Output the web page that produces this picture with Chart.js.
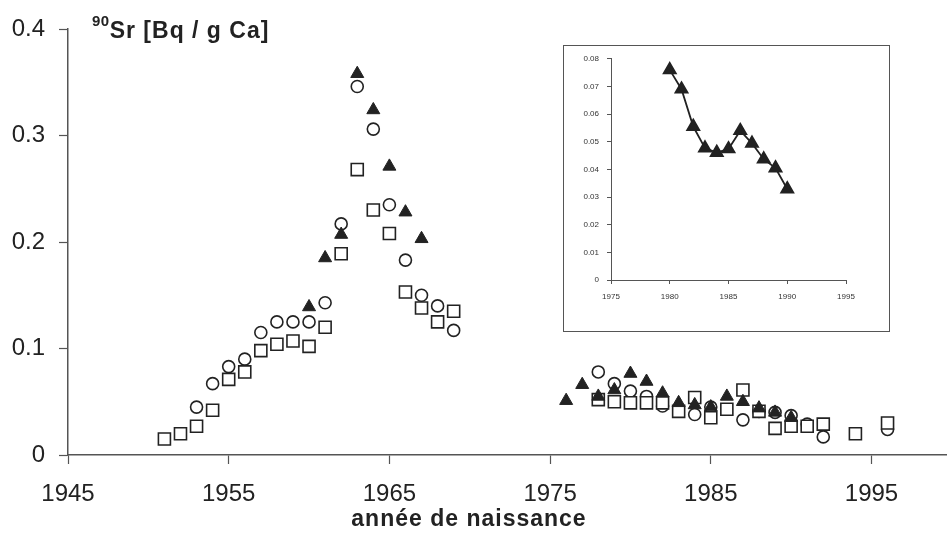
<!DOCTYPE html>
<html>
<head>
<meta charset="utf-8">
<script src="https://cdn.jsdelivr.net/npm/chart.js@4/dist/chart.umd.min.js"></script>
<style>
  html, body { margin: 0; padding: 0; background: #fff; }
  #wrap { position: relative; width: 947px; height: 541px; font-family: "Liberation Sans", Arial, sans-serif; color: #222; }
  #main { position: absolute; left: 0; top: 0; width: 947px; height: 541px; }
  #insetFrame { position: absolute; left: 563px; top: 45px; width: 327px; height: 287px; box-sizing: border-box; border: 1.5px solid #555; background: #fff; }
  #inset { position: absolute; left: 0; top: 0; width: 324px; height: 284px; }
  #ytitle { position: absolute; left: 92px; top: 19px; font-weight: bold; font-size: 23px; line-height: 23px; letter-spacing: 1px; white-space: nowrap; }
  #ytitle span { font-size: 15px; position: relative; top: -12px; letter-spacing: 0.5px; }
  #xtitle { position: absolute; left: 269px; top: 504px; width: 400px; text-align: center; font-weight: bold; font-size: 23px; line-height: 28px; letter-spacing: 1px; }
</style>
</head>
<body>
<div id="wrap">
  <div id="main"><canvas id="mainChart"></canvas></div>
  <div id="ytitle"><span>90</span>Sr [Bq / g Ca]</div>
  <div id="xtitle">année de naissance</div>
  <div id="insetFrame"><div id="inset"><canvas id="insetChart"></canvas></div></div>
</div>
<script>
// quadrats (ouverts)
const sqYears  = [1951, 1952, 1953, 1954, 1955, 1956, 1957, 1958, 1959, 1960, 1961, 1962, 1963, 1964, 1965, 1966, 1967, 1968, 1969,
                  1978, 1979, 1980, 1981, 1982, 1983, 1984, 1985, 1986, 1987, 1988, 1989, 1990, 1991, 1992, 1994, 1996];
const sqValues = [0.015, 0.020, 0.027, 0.042, 0.071, 0.078, 0.098, 0.104, 0.107, 0.102, 0.120, 0.189, 0.268, 0.230, 0.208, 0.153, 0.138, 0.125, 0.135,
                  0.052, 0.050, 0.049, 0.049, 0.049, 0.041, 0.054, 0.035, 0.043, 0.061, 0.041, 0.025, 0.027, 0.027, 0.029, 0.020, 0.030];

// cercles (ouverts)
const circYears  = [1953, 1954, 1955, 1956, 1957, 1958, 1959, 1960, 1961, 1962, 1963, 1964, 1965, 1966, 1967, 1968, 1969,
                    1978, 1979, 1980, 1981, 1982, 1984, 1985, 1987, 1988, 1989, 1990, 1991, 1992, 1996];
const circValues = [0.045, 0.067, 0.083, 0.090, 0.115, 0.125, 0.125, 0.125, 0.143, 0.217, 0.346, 0.306, 0.235, 0.183, 0.150, 0.140, 0.117,
                    0.078, 0.067, 0.060, 0.055, 0.046, 0.038, 0.045, 0.033, 0.041, 0.040, 0.037, 0.029, 0.017, 0.024];

// triangles (pleins)
const triYears  = [1960, 1961, 1962, 1963, 1964, 1965, 1966, 1967,
                   1976, 1977, 1978, 1979, 1980, 1981, 1982, 1983, 1984, 1985, 1986, 1987, 1988, 1989, 1990];
const triValues = [0.139, 0.185, 0.207, 0.358, 0.324, 0.271, 0.228, 0.203,
                   0.051, 0.066, 0.055, 0.061, 0.0765, 0.069, 0.058, 0.049, 0.047, 0.045, 0.055, 0.050, 0.044, 0.040, 0.035];

// encart
const insetYears  = [1980, 1981, 1982, 1983, 1984, 1985, 1986, 1987, 1988, 1989, 1990];
const insetValues = [0.076, 0.069, 0.0555, 0.0477, 0.0461, 0.0474, 0.054, 0.0494, 0.0437, 0.0405, 0.0329];

const xTicks = [1945, 1955, 1965, 1975, 1985, 1995];
const insetXTicks = [1975, 1980, 1985, 1990, 1995];

const ink = '#222';
const axisColor = '#555';

function toPoints(xs, ys) {
    return xs.map((x, i) => ({ x: x, y: ys[i] }));
}

// graphique principal
new Chart(document.getElementById('mainChart'), {
    type: 'scatter',
    data: {
        datasets: [
            {
                label: 'triangles',
                data: toPoints(triYears, triValues),
                pointStyle: 'triangle',
                pointRadius: 7.5,
                backgroundColor: ink,
                borderColor: ink,
                borderWidth: 1,
                order: 1
            },
            {
                label: 'carrés',
                data: toPoints(sqYears, sqValues),
                pointStyle: 'rect',
                pointRadius: 8.5,
                backgroundColor: '#fff',
                borderColor: ink,
                borderWidth: 1.6,
                order: 2
            },
            {
                label: 'cercles',
                data: toPoints(circYears, circValues),
                pointStyle: 'circle',
                pointRadius: 6,
                backgroundColor: '#fff',
                borderColor: ink,
                borderWidth: 1.6,
                order: 3
            }
        ]
    },
    options: {
        responsive: true,
        maintainAspectRatio: false,
        animation: false,
        // axe x jusqu'au bord droit : pas de marge auto pour les points
        layout: { autoPadding: false, padding: { top: 29, right: 0, left: 0, bottom: 0 } },
        plugins: { legend: { display: false }, tooltip: { enabled: false } },
        scales: {
            x: {
                type: 'linear',
                min: 1945,
                max: 1999.7,
                afterBuildTicks: axis => { axis.ticks = xTicks.map(v => ({ value: v })); },
                afterFit: scale => {
                    scale.height = 86;
                    scale.paddingRight = 0;
                    scale.paddingLeft = 0;
                },
                grid: { drawOnChartArea: false, drawTicks: true, tickLength: 9, tickColor: axisColor, tickWidth: 1.2 },
                border: { display: true, color: axisColor, width: 1.5 },
                ticks: {
                    color: ink,
                    padding: 16,
                    maxRotation: 0,
                    autoSkip: false,
                    font: { family: 'Liberation Sans', size: 24 },
                    callback: v => String(v)
                }
            },
            y: {
                type: 'linear',
                min: 0,
                max: 0.4,
                afterBuildTicks: axis => { axis.ticks = [0, 0.1, 0.2, 0.3, 0.4].map(v => ({ value: v })); },
                afterFit: scale => { scale.width = 68; },
                grid: { drawOnChartArea: false, drawTicks: true, tickLength: 9, tickColor: axisColor, tickWidth: 1.2 },
                border: { display: true, color: axisColor, width: 1.5 },
                ticks: {
                    color: ink,
                    padding: 14,
                    font: { family: 'Liberation Sans', size: 24 },
                    callback: v => v === 0 ? '0' : v.toFixed(1)
                }
            }
        }
    }
});

// encart 1980-1990
new Chart(document.getElementById('insetChart'), {
    type: 'line',
    data: {
        datasets: [{
            label: 'encart',
            data: toPoints(insetYears, insetValues),
            borderColor: ink,
            borderWidth: 1.8,
            pointStyle: 'triangle',
            pointRadius: 7,
            pointBackgroundColor: ink,
            pointBorderColor: ink,
            tension: 0
        }]
    },
    options: {
        responsive: true,
        maintainAspectRatio: false,
        animation: false,
        layout: { padding: { top: 11, right: 42, left: 0, bottom: 0 } },
        plugins: { legend: { display: false }, tooltip: { enabled: false } },
        scales: {
            x: {
                type: 'linear',
                min: 1975,
                max: 1995,
                afterBuildTicks: axis => { axis.ticks = insetXTicks.map(v => ({ value: v })); },
                afterFit: scale => { scale.height = 50; },
                grid: { drawOnChartArea: false, tickLength: 4, tickColor: axisColor },
                border: { display: true, color: axisColor, width: 1 },
                ticks: {
                    color: '#333',
                    padding: 8,
                    maxRotation: 0,
                    autoSkip: false,
                    font: { family: 'Liberation Sans', size: 8 },
                    callback: v => String(v)
                }
            },
            y: {
                type: 'linear',
                min: 0,
                max: 0.08,
                afterBuildTicks: axis => { axis.ticks = [0, 0.01, 0.02, 0.03, 0.04, 0.05, 0.06, 0.07, 0.08].map(v => ({ value: v })); },
                afterFit: scale => { scale.width = 47; },
                grid: { drawOnChartArea: false, tickLength: 4, tickColor: axisColor },
                border: { display: true, color: axisColor, width: 1 },
                ticks: {
                    color: '#333',
                    padding: 8,
                    font: { family: 'Liberation Sans', size: 8 },
                    callback: v => v === 0 ? '0' : v.toFixed(2)
                }
            }
        }
    }
});
</script>
</body>
</html>
